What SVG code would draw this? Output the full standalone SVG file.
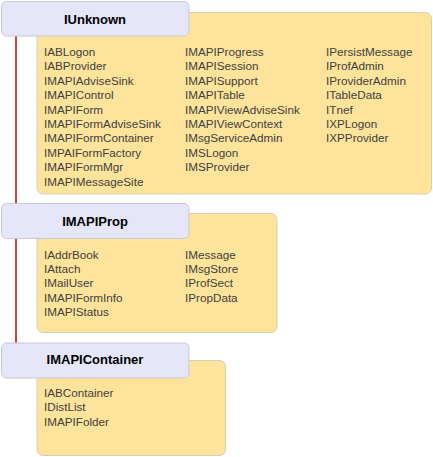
<svg xmlns="http://www.w3.org/2000/svg" width="433" height="457" viewBox="0 0 433 457">
<style>
.panel{fill:#FEE49A;stroke:#D4CDB8;stroke-width:1}
.hdr{fill:#E6E6FA;stroke:#C8C8D4;stroke-width:1}
.ht{font-family:"Liberation Sans",Arial,sans-serif;font-size:13px;font-weight:bold;fill:#000;text-anchor:middle}
.it{font-family:"Liberation Sans",Arial,sans-serif;font-size:11.7px;fill:#404040}
.conn{stroke:#C00000;stroke-width:1.5;fill:none}
</style>
<rect width="433" height="457" fill="#fff"/>
<g id="connectors">
<line class="conn" x1="16" y1="36" x2="16" y2="343"/>
</g>
<g id="IUnknown">
<rect class="panel" x="37" y="12.5" width="394.5" height="181.5" rx="6"/>
<rect class="hdr" x="1.5" y="1.5" width="187.5" height="34.5" rx="5"/>
<text class="ht" x="95" y="23.5">IUnknown</text>
<g class="it">
<text x="44" y="56">IABLogon</text>
<text x="44" y="70.4">IABProvider</text>
<text x="44" y="84.8">IMAPIAdviseSink</text>
<text x="44" y="99.2">IMAPIControl</text>
<text x="44" y="113.6">IMAPIForm</text>
<text x="44" y="128">IMAPIFormAdviseSink</text>
<text x="44" y="142.4">IMAPIFormContainer</text>
<text x="44" y="156.8">IMPAIFormFactory</text>
<text x="44" y="171.2">IMAPIFormMgr</text>
<text x="44" y="185.6">IMAPIMessageSite</text>
<text x="185" y="56">IMAPIProgress</text>
<text x="185" y="70.4">IMAPISession</text>
<text x="185" y="84.8">IMAPISupport</text>
<text x="185" y="99.2">IMAPITable</text>
<text x="185" y="113.6">IMAPIViewAdviseSink</text>
<text x="185" y="128">IMAPIViewContext</text>
<text x="185" y="142.4">IMsgServiceAdmin</text>
<text x="185" y="156.8">IMSLogon</text>
<text x="185" y="171.2">IMSProvider</text>
<text x="326" y="56">IPersistMessage</text>
<text x="326" y="70.4">IProfAdmin</text>
<text x="326" y="84.8">IProviderAdmin</text>
<text x="326" y="99.2">ITableData</text>
<text x="326" y="113.6">ITnef</text>
<text x="326" y="128">IXPLogon</text>
<text x="326" y="142.4">IXPProvider</text>
</g>
</g>
<g id="IMAPIProp">
<rect class="panel" x="37" y="213.5" width="240" height="119" rx="6"/>
<rect class="hdr" x="1.5" y="203.5" width="187.5" height="35" rx="5"/>
<text class="ht" x="95" y="225.5">IMAPIProp</text>
<g class="it">
<text x="44" y="258.5">IAddrBook</text>
<text x="44" y="272.9">IAttach</text>
<text x="44" y="287.3">IMailUser</text>
<text x="44" y="301.7">IMAPIFormInfo</text>
<text x="44" y="316.1">IMAPIStatus</text>
<text x="185" y="258.5">IMessage</text>
<text x="185" y="272.9">IMsgStore</text>
<text x="185" y="287.3">IProfSect</text>
<text x="185" y="301.7">IPropData</text>
</g>
</g>
<g id="IMAPIContainer">
<rect class="panel" x="37" y="360.5" width="188.5" height="95" rx="6"/>
<rect class="hdr" x="1.5" y="343" width="187.5" height="35" rx="5"/>
<text class="ht" x="95" y="364">IMAPIContainer</text>
<g class="it">
<text x="44" y="397">IABContainer</text>
<text x="44" y="411.4">IDistList</text>
<text x="44" y="425.8">IMAPIFolder</text>
</g>
</g>
</svg>
